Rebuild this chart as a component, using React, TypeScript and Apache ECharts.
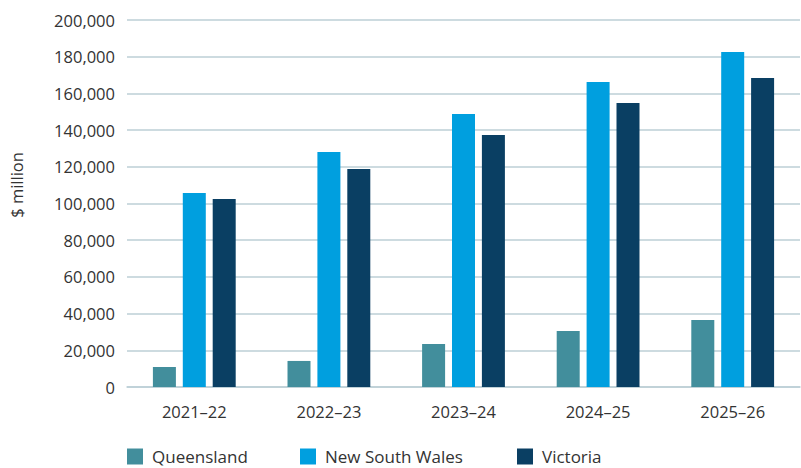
import React, { useEffect, useRef } from "react";
import * as echarts from "echarts";

const categories = ["2021–22", "2022–23", "2023–24", "2024–25", "2025–26"];
const queensland = [10900, 14200, 23400, 30500, 36500];
const newSouthWales = [105700, 128100, 148800, 166200, 182600];
const victoria = [102400, 118800, 137300, 154800, 168400];
const seriesNames = ["Queensland", "New South Wales", "Victoria"];
const colors = ["#428E9C", "#009FDF", "#0A3F63"];
const yAxisName = "$ million";

const FONT = "Open Sans";

export default function App() {
  const ref = useRef<HTMLDivElement>(null);
  useEffect(() => {
    if (!ref.current) return;
    const chart = echarts.init(ref.current, null, { renderer: "svg" });
    const legendLefts = [127, 300, 517];
    chart.setOption({
      animation: false,
      color: colors,
      grid: { left: 127, right: 1, top: 20, bottom: 81, containLabel: false },
      legend: seriesNames.map((n, i) => ({
        data: [n],
        left: legendLefts[i],
        top: 448,
        itemWidth: 16,
        itemHeight: 16,
        icon: "rect",
        selectedMode: false,
        padding: 0,
        textStyle: { fontFamily: FONT, fontSize: 17, color: "#333", padding: [0, 0, 0, 4] },
      })),
      graphic: [
        {
          type: "text",
          x: 16,
          y: 185,
          rotation: Math.PI / 2,
          style: {
            text: yAxisName,
            font: `16.5px "${FONT}"`,
            fill: "#333",
            align: "center",
            verticalAlign: "middle",
          },
        },
      ],
      xAxis: {
        type: "category",
        data: categories,
        axisLine: { show: true, lineStyle: { color: "#BCCFD6", width: 1.5 } },
        axisTick: { show: false },
        axisLabel: { fontFamily: FONT, fontSize: 16.5, color: "#333", margin: 16 },
      },
      yAxis: {
        type: "value",
        min: 0,
        max: 200000,
        interval: 20000,
        axisLine: { show: false },
        axisTick: { show: false },
        splitLine: { lineStyle: { color: "#BCCFD6", width: 1.5 } },
        axisLabel: {
          fontFamily: FONT,
          fontSize: 16.5,
          color: "#333",
          margin: 12,
          formatter: (v: number) => v.toLocaleString("en-US"),
        },
      },
      series: [queensland, newSouthWales, victoria].map((d, i) => ({
        name: seriesNames[i],
        type: "bar",
        data: d,
        barWidth: 23,
        barGap: "30%",
      })),
    });
    return () => chart.dispose();
  }, []);
  return <div ref={ref} style={{ width: 801, height: 468, position: "absolute", left: 0, top: 0 }} />;
}
